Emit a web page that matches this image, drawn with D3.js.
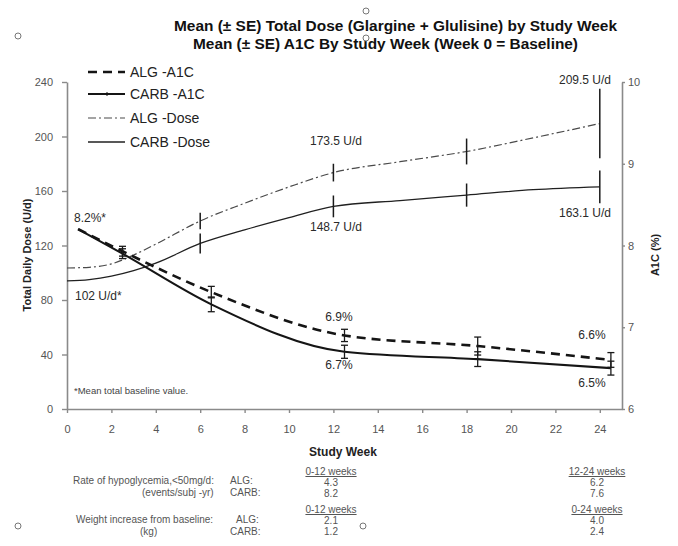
<!DOCTYPE html>
<html>
<head>
<meta charset="utf-8">
<script src="https://cdn.jsdelivr.net/npm/d3@7"></script>
<style>
  html, body { margin: 0; padding: 0; background: #fff; }
  svg { display: block; font-family: "Liberation Sans", Arial, sans-serif; }
</style>
</head>
<body>
<svg id="chart" width="678" height="546"></svg>
<script>
// Total daily dose (U/d) by study week
const doseWeeks = [0, 1, 2, 3, 4, 6, 8, 10, 12, 15, 18, 21, 24];
const algDose   = [103.5, 104, 106.5, 113, 121, 138, 151, 163, 173.5, 181.5, 189, 199, 209.5];
const carbDose  = [94, 95, 97.5, 101.5, 107, 121.5, 131.5, 140.5, 148.7, 153, 157, 161, 163.1];

// Standard errors of dose at the visit weeks
const doseErrWeeks = [6, 12, 18, 24];
const algDoseSE    = [6, 6.5, 9.5, 25.5];
const carbDoseSE   = [7.3, 8, 8.5, 12];

// A1C (%) by study week (plotted half a week offset)
const a1cWeeks  = [0.5, 2.5, 6.5, 12.5, 18.5, 24.5];
const algA1c    = [8.2, 7.93, 7.43, 6.9, 6.77, 6.6];
const carbA1c   = [8.2, 7.9, 7.28, 6.7, 6.61, 6.5];
const algA1cSE  = [0, 0.06, 0.07, 0.075, 0.11, 0.09];
const carbA1cSE = [0, 0.06, 0.09, 0.08, 0.09, 0.085];

// Axis ticks
const weekTicks = [0, 2, 4, 6, 8, 10, 12, 14, 16, 18, 20, 22, 24];
const doseTicks = [0, 40, 80, 120, 160, 200, 240];
const a1cTicks  = [6, 7, 8, 9, 10];

// Legend entries
const legendLabels = ["ALG -A1C", "CARB -A1C", "ALG -Dose", "CARB -Dose"];

// Summary table below the plot
const tableRowLabels = ["Rate of hypoglycemia,<50mg/d:", "(events/subj -yr)", "Weight increase from baseline:", "(kg)"];
const tableGroups    = ["ALG:", "CARB:", "ALG:", "CARB:"];
const hypoPeriods    = ["0-12 weeks", "12-24 weeks"];
const hypoAlg        = ["4.3", "6.2"];
const hypoCarb       = ["8.2", "7.6"];
const weightPeriods  = ["0-12 weeks", "0-24 weeks"];
const weightAlg      = ["2.1", "4.0"];
const weightCarb     = ["1.2", "2.4"];

const svg = d3.select("#chart");

const x = d3.scaleLinear().domain([0, 25]).range([67, 622]);
const yDose = d3.scaleLinear().domain([0, 240]).range([409, 82]);
const yA1c = d3.scaleLinear().domain([6, 10]).range([409, 82]);

const axisColor = "#8a8a8a";
const tickText = "#555";

// Axes
function styleAxis(g) {
  g.select(".domain").attr("stroke", axisColor).attr("stroke-width", 1.6);
  g.selectAll(".tick line").attr("stroke", axisColor).attr("stroke-width", 1.4);
  g.selectAll(".tick text").attr("fill", tickText).attr("font-size", 11)
    .attr("font-family", "Liberation Sans, Arial, sans-serif");
}

svg.append("g")
  .attr("transform", "translate(0,409)")
  .call(d3.axisBottom(x).tickValues(weekTicks).tickSize(4).tickSizeOuter(0).tickPadding(12))
  .call(styleAxis);

svg.append("g")
  .attr("transform", "translate(67,0)")
  .call(d3.axisLeft(yDose).tickValues(doseTicks).tickSize(5).tickSizeOuter(0).tickPadding(9))
  .call(styleAxis);

svg.append("g")
  .attr("transform", "translate(622,0)")
  .call(d3.axisRight(yA1c).tickValues(a1cTicks).tickFormat(d3.format("d"))
    .tickSize(3).tickSizeOuter(0).tickPadding(3))
  .call(styleAxis);

// Axis titles
svg.append("text")
  .attr("transform", "translate(31,255) rotate(-90)")
  .attr("text-anchor", "middle")
  .attr("font-size", 11).attr("font-weight", "bold").attr("fill", "#222")
  .text("Total Daily Dose (U/d)");

svg.append("text")
  .attr("transform", "translate(659,255) rotate(-90)")
  .attr("text-anchor", "middle")
  .attr("font-size", 11).attr("font-weight", "bold").attr("fill", "#222")
  .text("A1C (%)");

svg.append("text")
  .attr("x", 343).attr("y", 456)
  .attr("text-anchor", "middle")
  .attr("font-size", 12).attr("font-weight", "bold").attr("fill", "#222")
  .text("Study Week");

// Title
svg.append("text")
  .attr("x", 174).attr("y", 31)
  .attr("font-size", 14).attr("font-weight", "bold").attr("fill", "#111")
  .attr("textLength", 443).attr("lengthAdjust", "spacingAndGlyphs")
  .text("Mean (\u00B1 SE) Total Dose (Glargine + Glulisine) by Study Week");
svg.append("text")
  .attr("x", 193).attr("y", 49)
  .attr("font-size", 14).attr("font-weight", "bold").attr("fill", "#111")
  .attr("textLength", 385).attr("lengthAdjust", "spacingAndGlyphs")
  .text("Mean (\u00B1 SE) A1C By Study Week (Week 0 = Baseline)");

// Series
const doseAlgPts = doseWeeks.map((w, i) => [w, algDose[i]]);
const doseCarbPts = doseWeeks.map((w, i) => [w, carbDose[i]]);
const a1cAlgPts = a1cWeeks.map((w, i) => [w, algA1c[i]]);
const a1cCarbPts = a1cWeeks.map((w, i) => [w, carbA1c[i]]);

const doseLine = d3.line().x(d => x(d[0])).y(d => yDose(d[1])).curve(d3.curveMonotoneX);
const a1cLine = d3.line().x(d => x(d[0])).y(d => yA1c(d[1])).curve(d3.curveMonotoneX);

const styles = {
  algA1c:  { stroke: "#151515", width: 2.6, dash: "9,6" },
  carbA1c: { stroke: "#151515", width: 2.1, dash: null },
  algDose: { stroke: "#4a4a4a", width: 1.2, dash: "8,3,2,3" },
  carbDose:{ stroke: "#202020", width: 1.3, dash: null }
};

function drawPath(data, gen, st) {
  svg.append("path").datum(data)
    .attr("d", gen)
    .attr("fill", "none")
    .attr("stroke", st.stroke)
    .attr("stroke-width", st.width)
    .attr("stroke-dasharray", st.dash);
}

drawPath(doseAlgPts, doseLine, styles.algDose);
drawPath(doseCarbPts, doseLine, styles.carbDose);
drawPath(a1cAlgPts, a1cLine, styles.algA1c);
drawPath(a1cCarbPts, a1cLine, styles.carbA1c);

// Dose error bars (no caps)
function doseAt(series, w) { return series[doseWeeks.indexOf(w)]; }
doseErrWeeks.forEach((w, i) => {
  [[algDose, algDoseSE[i]], [carbDose, carbDoseSE[i]]].forEach(([ser, se]) => {
    const v = doseAt(ser, w);
    svg.append("line")
      .attr("x1", x(w)).attr("x2", x(w))
      .attr("y1", yDose(v + se)).attr("y2", yDose(v - se))
      .attr("stroke", "#1a1a1a").attr("stroke-width", 1.5);
  });
});

// A1C error bars (capped)
function a1cBar(w, v, se) {
  if (se <= 0) return;
  const cx = x(w), t = yA1c(v + se), b = yA1c(v - se);
  svg.append("line").attr("x1", cx).attr("x2", cx).attr("y1", t).attr("y2", b)
    .attr("stroke", "#1a1a1a").attr("stroke-width", 1.3);
  [t, b].forEach(yy => svg.append("line")
    .attr("x1", cx - 3.5).attr("x2", cx + 3.5).attr("y1", yy).attr("y2", yy)
    .attr("stroke", "#1a1a1a").attr("stroke-width", 1.3));
}
a1cWeeks.forEach((w, i) => {
  a1cBar(w, algA1c[i], algA1cSE[i]);
  a1cBar(w, carbA1c[i], carbA1cSE[i]);
});

// Value annotations
const ann = svg.append("g").attr("font-size", 12).attr("fill", "#2a2a2a");
ann.append("text").attr("x", 74).attr("y", 222).text(d3.format(".1f")(algA1c[0]) + "%*");
ann.append("text").attr("x", 75).attr("y", 300).text("102 U/d*");
ann.append("text").attr("x", 336).attr("y", 145).attr("text-anchor", "middle").text(doseAt(algDose, 12) + " U/d");
ann.append("text").attr("x", 336).attr("y", 231).attr("text-anchor", "middle").text(doseAt(carbDose, 12) + " U/d");
ann.append("text").attr("x", 585).attr("y", 84).attr("text-anchor", "middle").text(doseAt(algDose, 24) + " U/d");
ann.append("text").attr("x", 585).attr("y", 217).attr("text-anchor", "middle").text(doseAt(carbDose, 24) + " U/d");
ann.append("text").attr("x", 339).attr("y", 321).attr("text-anchor", "middle").text(d3.format(".1f")(algA1c[3]) + "%");
ann.append("text").attr("x", 339).attr("y", 369).attr("text-anchor", "middle").text(d3.format(".1f")(carbA1c[3]) + "%");
ann.append("text").attr("x", 592).attr("y", 339).attr("text-anchor", "middle").text(d3.format(".1f")(algA1c[5]) + "%");
ann.append("text").attr("x", 592).attr("y", 387).attr("text-anchor", "middle").text(d3.format(".1f")(carbA1c[5]) + "%");

svg.append("text").attr("x", 74).attr("y", 394)
  .attr("font-size", 9.5).attr("fill", "#444")
  .text("*Mean total baseline value.");

// Legend
const legendKeys = ["algA1c", "carbA1c", "algDose", "carbDose"];
const legendY = [72, 94, 118, 142];
legendLabels.forEach((lab, i) => {
  const st = styles[legendKeys[i]];
  svg.append("line")
    .attr("x1", 88).attr("x2", 125).attr("y1", legendY[i]).attr("y2", legendY[i])
    .attr("stroke", st.stroke).attr("stroke-width", st.width)
    .attr("stroke-dasharray", st.dash);
  if (legendKeys[i] === "carbA1c") {
    svg.append("line").attr("x1", 107).attr("x2", 107)
      .attr("y1", legendY[i] - 2).attr("y2", legendY[i] + 2)
      .attr("stroke", "#151515").attr("stroke-width", 1);
  }
  svg.append("text")
    .attr("x", 130).attr("y", legendY[i] + 5)
    .attr("font-size", 14).attr("fill", "#222")
    .text(lab);
});

// Summary table
const tbl = svg.append("g").attr("font-size", 10).attr("fill", "#555");
const rowY = [484, 496, 523, 535];
const rowX = [73, 142, 76, 140];
tableRowLabels.forEach((t, i) => tbl.append("text").attr("x", rowX[i]).attr("y", rowY[i]).text(t));
const grpX = [230, 230, 236, 230];
tableGroups.forEach((t, i) => tbl.append("text").attr("x", grpX[i]).attr("y", rowY[i]).text(t));

const colX = [331, 597];
function tableBlock(periods, a, c, yHead) {
  periods.forEach((p, j) => {
    tbl.append("text").attr("x", colX[j]).attr("y", yHead)
      .attr("text-anchor", "middle").attr("text-decoration", "underline").text(p);
    tbl.append("text").attr("x", colX[j]).attr("y", yHead + 10.5).attr("text-anchor", "middle").text(a[j]);
    tbl.append("text").attr("x", colX[j]).attr("y", yHead + 21.5).attr("text-anchor", "middle").text(c[j]);
  });
}
tableBlock(hypoPeriods, hypoAlg, hypoCarb, 475);
tableBlock(weightPeriods, weightAlg, weightCarb, 513);

// Selection handles
const handles = [[18, 36], [366, 11], [366, 38], [18, 526], [363, 526]];
svg.append("g").selectAll("circle").data(handles).join("circle")
  .attr("cx", d => d[0]).attr("cy", d => d[1]).attr("r", 3)
  .attr("fill", "#fff").attr("stroke", "#777").attr("stroke-width", 1);
</script>
</body>
</html>
